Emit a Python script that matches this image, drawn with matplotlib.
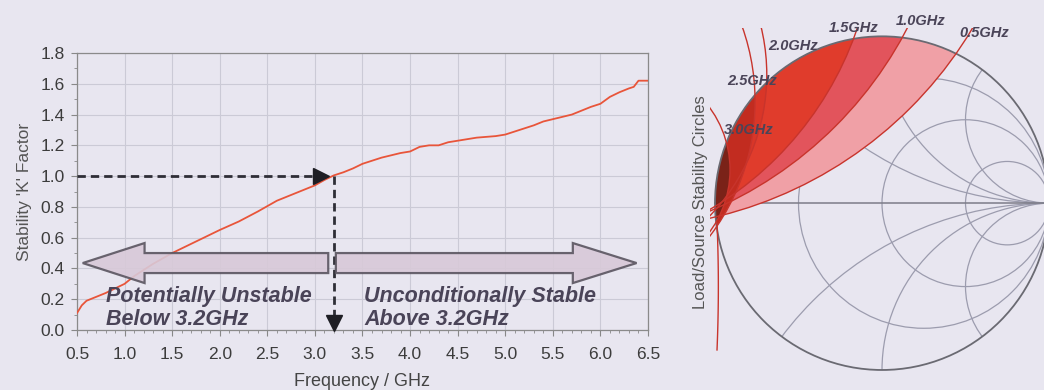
import numpy as np
import matplotlib
matplotlib.use('Agg')
import matplotlib.pyplot as plt
from matplotlib.patches import Circle, FancyArrow

plt.rcParams['font.family'] = ['Liberation Sans', 'DejaVu Sans']

# K factor vs frequency
freq_ghz = [0.5, 0.55, 0.6, 0.7, 0.8, 0.9, 1.0, 1.1, 1.2, 1.3, 1.4, 1.5, 1.6, 1.7,
            1.8, 1.9, 2.0, 2.2, 2.4, 2.6, 2.8, 3.0, 3.1, 3.2, 3.3, 3.4, 3.5, 3.6,
            3.7, 3.8, 3.9, 4.0, 4.1, 4.2, 4.3, 4.4, 4.5, 4.6, 4.7, 4.8, 4.9, 5.0,
            5.1, 5.2, 5.3, 5.4, 5.5, 5.6, 5.7, 5.8, 5.9, 6.0, 6.1, 6.2, 6.3, 6.35,
            6.4, 6.5]
k_factor = [0.11, 0.16, 0.19, 0.215, 0.24, 0.27, 0.30, 0.35, 0.39, 0.43, 0.465, 0.50,
            0.53, 0.56, 0.59, 0.62, 0.65, 0.705, 0.77, 0.84, 0.89, 0.94, 0.975, 1.005,
            1.025, 1.05, 1.08, 1.10, 1.12, 1.135, 1.15, 1.16, 1.19, 1.20, 1.20, 1.22,
            1.23, 1.24, 1.25, 1.255, 1.26, 1.27, 1.29, 1.31, 1.33, 1.355, 1.37, 1.385,
            1.40, 1.425, 1.45, 1.47, 1.515, 1.545, 1.57, 1.58, 1.62, 1.62]
f_cross = 3.2      # frequency where K reaches 1
k_cross = 1.0

xtick_vals = [0.5, 1.0, 1.5, 2.0, 2.5, 3.0, 3.5, 4.0, 4.5, 5.0, 5.5, 6.0, 6.5]
ytick_vals = [0.0, 0.2, 0.4, 0.6, 0.8, 1.0, 1.2, 1.4, 1.6, 1.8]

# stability circles in the reflection-coefficient plane
stab_labels = ['0.5GHz', '1.0GHz', '1.5GHz', '2.0GHz', '2.5GHz', '3.0GHz']
stab_cu = [-1.57, -1.97, -2.06, -1.91, -2.10, -1.54]
stab_cv = [2.31, 2.15, 1.70, 0.77, 0.61, 0.20]
stab_rad = [2.46, 2.39, 2.02, 1.22, 1.34, 0.63]

# source-side circle that only grazes the chart edge, drawn between two heights
src_cu, src_cv, src_rad = -10.0, -0.5, 9.02
src_v_span = (-0.88, -0.12)

# smith chart grid
r_circles = [1 / 3, 1.0, 3.0]
x_arcs = [0.5, 1.0, 2.0]

bg = '#e8e6f0'
txt = '#4a4458'
fills = ['#f0a0a6', '#e2545c', '#e03c2c', '#d93628', '#c22c20', '#7a2218']

fig = plt.figure(figsize=(10.44, 3.9), dpi=100, facecolor=bg)

# ---------------- K factor plot ----------------
ax = fig.add_axes([77 / 1044, 1 - 330 / 390, 571 / 1044, 277 / 390], facecolor=bg)
ax.plot(freq_ghz, k_factor, color='#e8553a', lw=1.3, zorder=3)
ax.set_xlim(0.5, 6.5)
ax.set_ylim(0.0, 1.8)
ax.set_xticks(xtick_vals)
ax.set_xticklabels([f'{v:.1f}' for v in xtick_vals])
ax.set_yticks(ytick_vals)
ax.set_yticklabels([f'{v:.1f}' for v in ytick_vals])
ax.set_xticks(np.arange(0.5, 6.51, 0.1), minor=True)
ax.set_yticks(np.arange(0.0, 1.81, 0.1), minor=True)
ax.grid(True, which='major', color='#cbcad6', lw=0.8)
ax.tick_params(which='major', direction='out', length=4, color='#888888',
               labelsize=12.5, labelcolor='#3c3c3c', pad=5)
ax.tick_params(axis='x', which='major', pad=8)
ax.tick_params(which='minor', direction='out', length=2.5, color='#888888')
for s in ax.spines.values():
    s.set_color('#8a8a8a')
    s.set_linewidth(0.9)
ax.set_xlabel('Frequency / GHz', fontsize=13, color='#444444', labelpad=8)
ax.set_ylabel("Stability 'K' Factor", fontsize=12.5, color='#555555', labelpad=6)

# dashed guides to the K = 1 crossing
ax.plot([0.5, 3.08], [k_cross, k_cross], color='#2e2e36', lw=2, dashes=(3, 1.8), zorder=4)
ax.plot([3.06], [k_cross], marker='>', ms=11, color='#1e1e24', zorder=5)
ax.plot([f_cross, f_cross], [k_cross, 0.07], color='#2e2e36', lw=2, dashes=(3, 1.8), zorder=4)
ax.plot([f_cross], [0.045], marker='v', ms=11, color='#1e1e24', zorder=5, clip_on=False)

# region arrows
arrow_kw = dict(width=0.13, head_width=0.26, length_includes_head=True,
                facecolor='#d8c9d8', edgecolor='#5a5560', lw=1.6, zorder=6, alpha=0.9)
ax.add_patch(FancyArrow(3.14, 0.435, 0.56 - 3.14, 0, head_length=0.65, **arrow_kw))
ax.add_patch(FancyArrow(3.22, 0.435, 6.38 - 3.22, 0, head_length=0.67, **arrow_kw))

ax.text(0.8, 0.143, 'Potentially Unstable\nBelow 3.2GHz', fontsize=15.5,
        fontweight='bold', fontstyle='italic', color=txt, va='center',
        linespacing=1.1, zorder=7)
ax.text(3.52, 0.143, 'Unconditionally Stable\nAbove 3.2GHz', fontsize=15.5,
        fontweight='bold', fontstyle='italic', color=txt, va='center',
        linespacing=1.1, zorder=7)

# ---------------- Smith chart ----------------
sx = fig.add_axes([710 / 1044, 0, 334 / 1044, 362 / 390], facecolor=bg)
sx.set_xlim(-1.03, 0.97)
sx.set_ylim(-1.12, 1.05)
sx.axis('off')

unit = Circle((0, 0), 1, transform=sx.transData, facecolor='none', edgecolor='none')
sx.add_patch(unit)

grid_col = '#9c9cae'
for r in r_circles:
    sx.add_patch(Circle((r / (1 + r), 0), 1 / (1 + r), fill=False,
                        edgecolor=grid_col, lw=0.9, zorder=1))
for x in x_arcs:
    for sgn in (1, -1):
        arc = Circle((1, sgn / x), 1 / x, fill=False, edgecolor=grid_col, lw=0.9, zorder=1)
        sx.add_patch(arc)
        arc.set_clip_path(unit)
sx.plot([-1, 1], [0, 0], color='#7c7c88', lw=1.1, zorder=1)

for cu, cv, rad, fc in zip(stab_cu, stab_cv, stab_rad, fills):
    patch = Circle((cu, cv), rad, facecolor=fc, edgecolor='none', zorder=2)
    sx.add_patch(patch)
    patch.set_clip_path(unit)

sx.add_patch(Circle((0, 0), 1, fill=False, edgecolor='#6a6a72', lw=1.3, zorder=2.5))

for cu, cv, rad in zip(stab_cu, stab_cv, stab_rad):
    sx.add_patch(Circle((cu, cv), rad, fill=False, edgecolor='#c8342c', lw=1.0, zorder=3))

# partial arc of the grazing circle
vv = np.linspace(src_v_span[0], src_v_span[1], 60)
uu = src_cu + np.sqrt(src_rad ** 2 - (vv - src_cv) ** 2)
sx.plot(uu, vv, color='#c8342c', lw=1.0, zorder=3)

label_kw = dict(fontsize=10.5, fontweight='bold', fontstyle='italic', color=txt,
                ha='center', va='center', zorder=4)
sx.text(0.61, 1.02, stab_labels[0], **label_kw)
sx.text(0.23, 1.09, stab_labels[1], **label_kw)
sx.text(-0.17, 1.05, stab_labels[2], **label_kw)
sx.text(-0.53, 0.94, stab_labels[3], **label_kw)
sx.text(-0.78, 0.73, stab_labels[4], **label_kw)
sx.text(-0.80, 0.44, stab_labels[5], **label_kw)

fig.text(700 / 1044, 1 - 202 / 390, 'Load/Source Stability Circles', rotation=90,
         ha='center', va='center', fontsize=12, color='#555555')

fig.savefig('out.png', dpi=100, facecolor=bg)
